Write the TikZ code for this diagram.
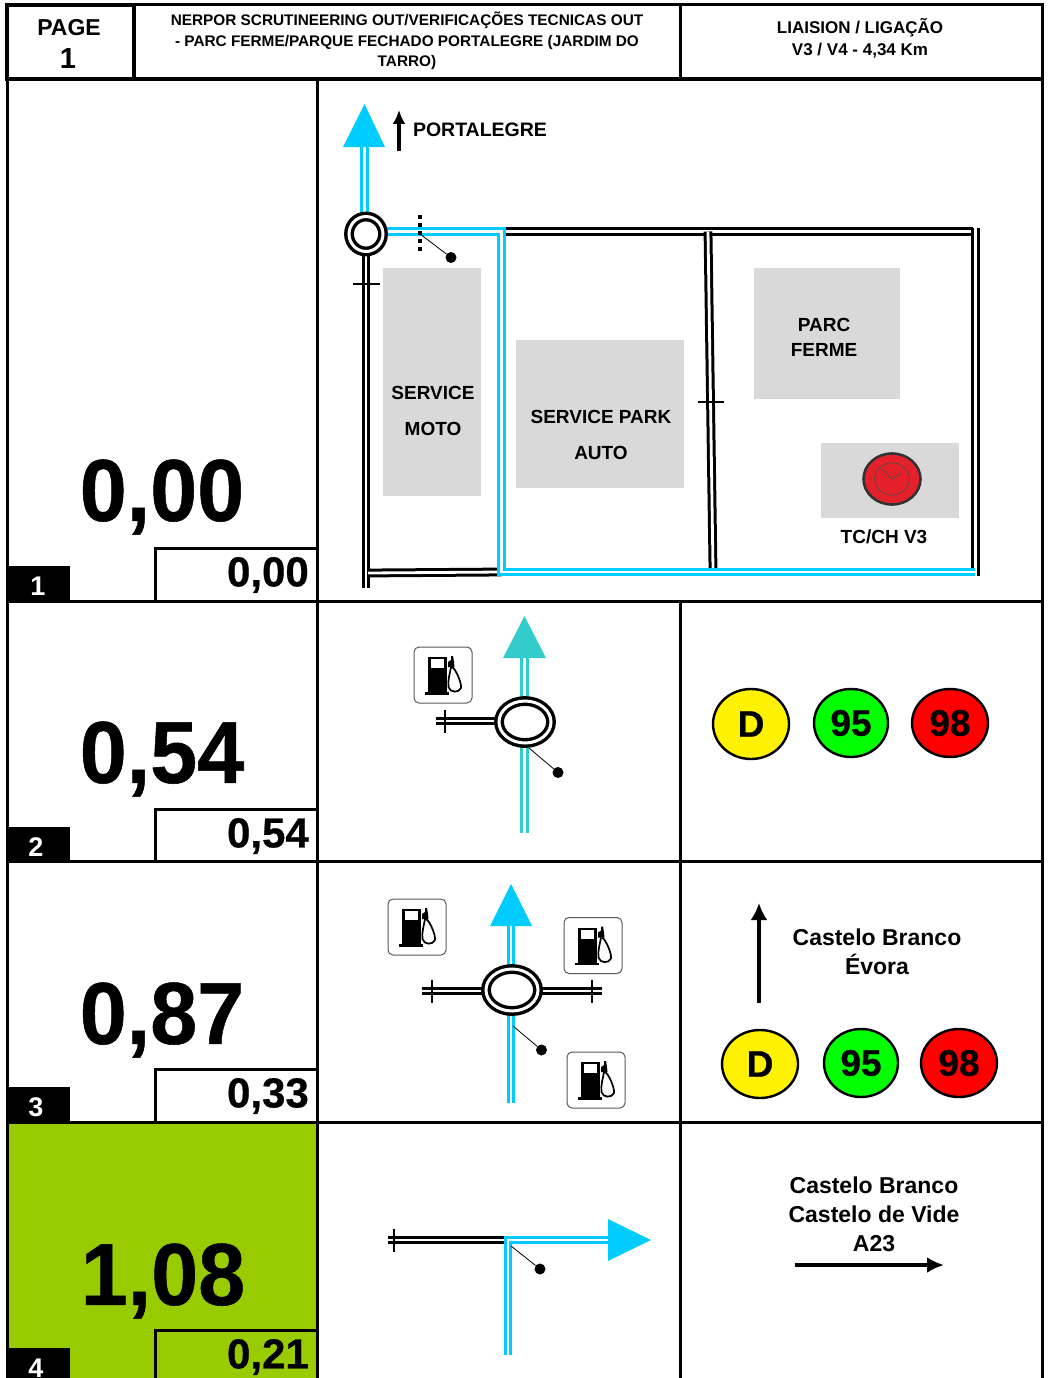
\documentclass[tikz,border=0pt]{standalone}
\usepackage{fontspec}
\setmainfont{Liberation Sans}
\newfontfamily\heavyfont{Liberation Sans}[BoldFeatures={FakeBold=0.6}]
\usetikzlibrary{arrows.meta,shapes.geometric,backgrounds}
\definecolor{rcyan}{HTML}{00CCFF}
\definecolor{rteal}{HTML}{33CCCC}
\definecolor{gboxc}{HTML}{D9D9D9}
\definecolor{rowgreen}{HTML}{99CC00}
\definecolor{fuelgreen}{HTML}{00FF00}
\definecolor{clockred}{HTML}{E4202A}
\tikzset{
  lab/.style 2 args={inner sep=0pt,align=center,font=\bfseries\fontsize{#1}{#2}\selectfont},
  big/.style={inner sep=0pt,xscale=0.96,font=\heavyfont\bfseries\fontsize{88}{88}\selectfont},
  small/.style={inner sep=0pt,anchor=east,xscale=1,font=\heavyfont\bfseries\fontsize{42}{42}\selectfont},
  numlab/.style={inner sep=0pt,text=white,font=\bfseries\fontsize{27}{27}\selectfont},
  grid/.style={draw=black,line width=3pt},
  road/.style={draw=black,line width=3pt,double=white,double distance=2.8pt},
  croad/.style={draw=rcyan,line width=3pt,double=white,double distance=2.2pt},
  troad/.style={draw=rteal,line width=3.2pt,double=white,double distance=2.4pt},
  tick/.style={draw=black,line width=2.8pt},
  rb/.style={shape=ellipse,draw=black,fill=white,line width=3.4pt,double=white,double distance=3pt,inner sep=0pt,minimum width=#1},
  dotm/.style={shape=circle,fill=black,inner sep=0pt,minimum size=11pt},
  leader/.style={draw=black,line width=0.8pt},
  gbox/.style={fill=gboxc},
  fuel/.style n args={3}{shape=ellipse,draw=black,line width=2.4pt,fill=#1,inner sep=0pt,minimum width=#2,minimum height=#3,font=\heavyfont\bfseries\fontsize{37}{37}\selectfont},
  pump/.pic={
    \draw[draw=black!65,line width=1pt,fill=white,rounded corners=5pt] (-29,-28) rectangle (29,28);
    \fill[black] (-15,-18) rectangle (4,17);
    \fill[black] (-18,17) rectangle (6,19.5);
    \fill[white] (-12,-16) rectangle (1,-7);
    \fill[black] (5,-8) -- (5,-13) -- (8,-15) -- (8,-19) -- (10,-19) -- (11,-13) -- (11.5,-8) -- cycle;
    \draw[black,line width=1.7pt] (9,-8) .. controls (13,-6) and (19,9) .. (18,13) .. controls (16,18) and (7,18) .. (5.5,12) .. controls (4.5,6) and (7,-2) .. (8,-8);
  }
}
\begin{document}
\begin{tikzpicture}[x=1pt,y=-1pt]
\useasboundingbox (0,0) rectangle (1050,1378);
% row 4 colour and table
\fill[rowgreen] (7,1122) rectangle (317,1385);
\draw[grid] (7,80) rectangle (1042,1390);
\draw[grid] (7,601) -- (1042,601);
\draw[grid] (7,861) -- (1042,861);
\draw[grid] (7,1122) -- (1042,1122);
\draw[grid] (317,80) -- (317,1390);
\draw[grid] (680,601) -- (680,1390);
\draw[grid] (134,5) rectangle (1042,79);
\draw[grid] (680,5) -- (680,79);
\draw[draw=black,line width=4pt] (7,5) rectangle (134,79);
% header
\node[lab={23}{23}] (pagew) at (69,28) {PAGE};
\node[lab={29}{29}] (pagen) at (68,59) {1};
\node[lab={15.35}{20.5}] (title) at (407,41) {NERPOR SCRUTINEERING OUT/VERIFICAÇÕES TECNICAS OUT\\- PARC FERME/PARQUE FECHADO PORTALEGRE (JARDIM DO\\TARRO)};
\node[lab={17}{22}] (liaison) at (860,38) {LIAISION / LIGAÇÃO\\V3 / V4 - 4,34 Km};
% distances
\node[big] (d1) at (162,497) {0,00};
\node[big] (d2) at (162,759) {0,54};
\node[big] (d3) at (162,1020) {0,87};
\node[big] (d4) at (163,1281) {1,08};
\foreach \yt/\nm/\val/\nn/\nx in {548/p1/{0,00}/1/38, 809/p2/{0,54}/2/36, 1069/p3/{0,33}/3/36, 1330/p4/{0,21}/4/36}{
  \draw[grid] (155,\yt+53) |- (317,\yt);
  \node[small] (\nm) at (309,\yt+27) {\val};
  \fill[black] (7,\yt+18) rectangle (70,\yt+53);
  \node[numlab] (n\nn) at (\nx,\yt+38) {\nn};
}
% ---- row 1 map
\fill[gbox] (383,268) rectangle (481,496);
\fill[gbox] (516,340) rectangle (684,488);
\fill[gbox] (754,268) rectangle (900,399);
\fill[gbox] (821,443) rectangle (959,518);
\node[lab={19}{36}] (moto) at (433,411) {SERVICE\\MOTO};
\node[lab={19}{36}] (auto) at (601,435) {SERVICE PARK\\AUTO};
\node[lab={19}{25}] (parc) at (824,337) {PARC\\FERME};
\node[lab={19}{19}] (tc) at (884,537) {TC/CH V3};
\node[lab={19.5}{19.5}] (porta) at (480,130) {PORTALEGRE};
\coordinate (portaT) at (399,110);
\coordinate (portaB) at (399,151);
\draw[draw=black,line width=4pt,-{Latex[length=14pt,width=13pt]}] (portaB) -- (portaT);
\node[shape=ellipse,draw=black!80,line width=2.6pt,fill=clockred,inner sep=0pt,minimum width=57pt,minimum height=51pt] (clock) at (892,479) {};
\draw[draw=black!70,line width=0.6pt] (clock.center) ellipse (17.5 and 16);
\draw[draw=black!70,line width=0.7pt] (882,469) -- (clock.center) -- (902,473);
\node[rb=34pt,minimum height=35pt] (rb1) at (366,234) {};
\coordinate (a1) at (364.5,147);
\coordinate (j1) at (501.5,231.5);
\coordinate (j2) at (501.5,572);
\coordinate (j3) at (975,572);
\coordinate (j4) at (973,231.5);
\coordinate (j5) at (708,231.5);
\coordinate (j6) at (713,569);
\coordinate (j7) at (366,588);
\coordinate (j8) at (368,573);
\coordinate (j9) at (975.5,576);
\coordinate (j10) at (975.5,228);
\begin{scope}[on background layer]
  \path[croad] (a1) -- (a1 |- rb1.north);
  \path[road] (rb1.south) -- (j7);
  \path[road] (j8) -- (j2);
  \path[road] (j1) -- (j4);
  \path[road] (j10) -- (j9);
  \path[road] (j5) -- (j6);
  \path[croad] (rb1.east |- j1) -- (j1) -- (j2) -- (j3);
\end{scope}
\fill[rcyan] (364.5,104) -- (385,147) -- (343,147) -- cycle;
\draw[tick] (353,284) -- (380,284);
\draw[tick] (698,402) -- (724,402);
\draw[draw=black,line width=4pt,dash pattern=on 4pt off 4pt] (420,215) -- (420,254);
\node[dotm] (dot1) at (451,257.5) {};
\coordinate (l1) at (420,234);
\draw[leader] (l1) -- (dot1);
% ---- row 2
\node[rb=52pt,minimum height=42pt] (rb2) at (525,722) {};
\coordinate (a2) at (524.5,658);
\coordinate (s2) at (524.5,833);
\coordinate (w2) at (436,721);
\begin{scope}[on background layer]
  \path[troad] (a2) -- (s2);
  \path[road] (w2) -- (rb2.west |- w2);
\end{scope}
\fill[rteal] (524.5,616) -- (546,658) -- (503,658) -- cycle;
\draw[tick] (445,710) -- (445,733);
\node[dotm] (dot2) at (558,772.5) {};
\coordinate (l2) at (529,748);
\draw[leader] (l2) -- (dot2);
\pic at (443,675) {pump};
\node[fuel={yellow}{76pt}{70pt}] (f2d) at (751,724) {D};
\node[fuel={fuelgreen}{74pt}{68pt}] (f295) at (851,723) {95};
\node[fuel={red}{76pt}{68pt}] (f298) at (950,723) {98};
% ---- row 3
\node[rb=52pt,minimum height=42pt] (rb3) at (512,990) {};
\coordinate (a3) at (511,926);
\coordinate (s3) at (511,1103);
\coordinate (w3) at (422,991);
\coordinate (e3) at (602,991);
\begin{scope}[on background layer]
  \path[croad] (a3) -- (s3);
  \path[road] (w3) -- (rb3.west |- w3);
  \path[road] (rb3.east |- e3) -- (e3);
\end{scope}
\fill[rcyan] (511,884) -- (532,926) -- (490,926) -- cycle;
\draw[tick] (432,980) -- (432,1003);
\draw[tick] (592,980) -- (592,1003);
\node[dotm] (dot3) at (541.5,1050) {};
\coordinate (l3) at (513,1026);
\draw[leader] (l3) -- (dot3);
\pic at (417,927) {pump};
\pic at (593,945.5) {pump};
\pic at (596,1080) {pump};
\coordinate (s3T) at (759,903);
\coordinate (s3B) at (759,1003);
\draw[draw=black,line width=4.4pt,-{Latex[length=17pt,width=17pt]}] (s3B) -- (s3T);
\node[lab={23}{29}] (dest3) at (877,951.5) {Castelo Branco\\Évora};
\node[fuel={yellow}{76pt}{68pt}] (f3d) at (760,1064) {D};
\node[fuel={fuelgreen}{74pt}{68pt}] (f395) at (861,1063) {95};
\node[fuel={red}{76pt}{68pt}] (f398) at (959,1063) {98};
% ---- row 4
\coordinate (w4) at (388,1240);
\coordinate (c4) at (506,1240);
\coordinate (a4) at (610,1240);
\coordinate (k4) at (508,1240);
\coordinate (s4) at (508,1355);
\begin{scope}[on background layer]
  \path[road] (w4) -- (c4);
  \path[croad] (a4) -- (k4) -- (s4);
\end{scope}
\fill[rcyan] (651,1240) -- (608,1261) -- (608,1219) -- cycle;
\draw[tick] (394,1229) -- (394,1252);
\node[dotm] (dot4) at (540,1269) {};
\coordinate (l4) at (511,1246);
\draw[leader] (l4) -- (dot4);
\node[lab={23}{29}] (dest4) at (874,1214) {Castelo Branco\\Castelo de Vide\\A23};
\coordinate (s4L) at (795,1265);
\coordinate (s4R) at (944,1265);
\draw[draw=black,line width=4pt,-{Latex[length=17pt,width=16pt]}] (s4L) -- (s4R);
\end{tikzpicture}
\end{document}
